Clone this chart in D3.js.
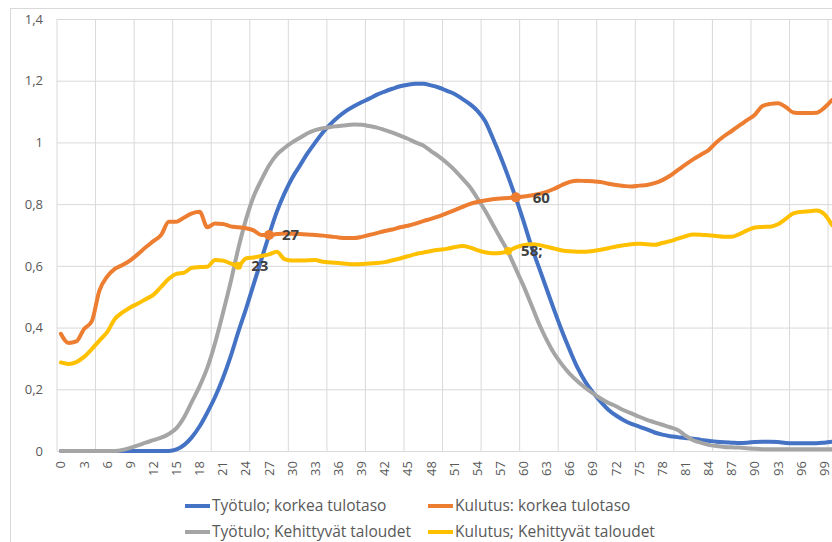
<!DOCTYPE html>
<html><head><meta charset="utf-8">
<script src="https://cdn.jsdelivr.net/npm/d3@7"></script>
<style>
html,body{margin:0;padding:0;background:#fff;overflow:hidden}
svg{display:block}
</style></head>
<body>
<svg id="chart" width="832" height="542"></svg>
<script>
const ages = d3.range(0, 101);
const yTicks = [0, 0.2, 0.4, 0.6, 0.8, 1, 1.2, 1.4];
const xLabelAges = d3.range(0, 100, 3);
const gridAges = d3.range(0, 101, 5);

const tyotuloKorkea = [0,0,0,0,0,0,0,0,0,0, 0,0,0,0,0,0.005,0.02,0.045,0.08,0.125,
 0.175,0.235,0.305,0.385,0.46,0.54,0.62,0.70,0.775,0.835,
 0.885,0.925,0.965,1.0,1.033,1.06,1.083,1.102,1.117,1.13,
 1.142,1.155,1.165,1.174,1.182,1.187,1.19,1.19,1.185,1.178,
 1.168,1.158,1.142,1.125,1.103,1.07,1.015,0.955,0.89,0.82,
 0.745,0.665,0.595,0.525,0.455,0.388,0.327,0.27,0.225,0.19,
 0.16,0.134,0.115,0.1,0.088,0.079,0.07,0.06,0.053,0.048,
 0.045,0.042,0.04,0.036,0.033,0.03,0.028,0.027,0.026,0.027,
 0.029,0.03,0.03,0.029,0.026,0.025,0.025,0.025,0.025,0.027,0.03];

const tyotuloKehittyvat = [0,0,0,0,0,0,0,0,0.003,0.01,
 0.018,0.027,0.035,0.043,0.055,0.074,0.11,0.16,0.21,0.27,
 0.35,0.445,0.545,0.655,0.75,0.825,0.878,0.925,0.96,0.982,
 1.0,1.015,1.03,1.04,1.046,1.05,1.053,1.056,1.058,1.057,
 1.053,1.048,1.04,1.032,1.022,1.012,1.0,0.99,0.972,0.955,
 0.935,0.912,0.885,0.857,0.82,0.78,0.735,0.69,0.645,0.59,
 0.535,0.475,0.413,0.36,0.315,0.28,0.25,0.226,0.205,0.187,
 0.17,0.156,0.145,0.132,0.122,0.111,0.101,0.093,0.085,0.077,
 0.068,0.05,0.035,0.027,0.02,0.016,0.013,0.012,0.011,0.009,
 0.007,0.006,0.006,0.006,0.006,0.006,0.006,0.006,0.006,0.006,0.006];

const kulutusKorkea = [0.38,0.35,0.355,0.395,0.42,0.52,0.565,0.59,0.603,0.618,
 0.638,0.66,0.68,0.70,0.743,0.743,0.757,0.77,0.775,0.725,
 0.737,0.736,0.728,0.725,0.722,0.715,0.70,0.70,0.703,0.705,
 0.704,0.703,0.702,0.70,0.698,0.695,0.692,0.69,0.69,0.694,
 0.70,0.706,0.713,0.718,0.725,0.73,0.737,0.745,0.752,0.76,
 0.77,0.78,0.79,0.80,0.807,0.812,0.816,0.818,0.82,0.822,
 0.825,0.828,0.833,0.84,0.85,0.862,0.872,0.876,0.875,0.874,
 0.872,0.866,0.862,0.859,0.857,0.86,0.862,0.868,0.878,0.892,
 0.91,0.928,0.945,0.96,0.975,1.0,1.02,1.037,1.055,1.072,
 1.09,1.118,1.125,1.127,1.115,1.097,1.095,1.095,1.096,1.112,1.137];

const kulutusKehittyvat = [0.287,0.282,0.288,0.305,0.33,0.358,0.385,0.428,0.449,0.465,
 0.478,0.492,0.506,0.532,0.558,0.574,0.578,0.594,0.596,0.597,
 0.619,0.617,0.608,0.6,0.624,0.627,0.632,0.637,0.646,0.622,
 0.617,0.617,0.618,0.619,0.613,0.611,0.609,0.607,0.605,0.606,
 0.608,0.609,0.612,0.618,0.624,0.631,0.638,0.643,0.648,0.652,
 0.655,0.66,0.664,0.66,0.651,0.644,0.641,0.642,0.648,0.66,
 0.667,0.67,0.668,0.662,0.656,0.65,0.647,0.646,0.646,0.648,
 0.652,0.657,0.663,0.667,0.67,0.672,0.67,0.668,0.674,0.68,
 0.688,0.696,0.702,0.701,0.699,0.697,0.694,0.694,0.703,0.715,
 0.724,0.726,0.727,0.735,0.752,0.77,0.775,0.777,0.779,0.768,0.732];

const seriesNames = ["Työtulo; korkea tulotaso","Kulutus: korkea tulotaso","Työtulo; Kehittyvät taloudet","Kulutus; Kehittyvät taloudet"];
const seriesColors = ["#4472C4","#ED7D31","#A5A5A5","#FFC000"];
const seriesValues = [tyotuloKorkea, kulutusKorkea, tyotuloKehittyvat, kulutusKehittyvat];
const drawOrder = [0, 2, 1, 3];

// markers: series index, age, label
const markerSeries = [1, 1, 3, 3];
const markerAges = [27, 59, 23, 58];
const markerLabels = ["27", "60", "23", "58;"];

const svg = d3.select("#chart");
const x = d3.scaleBand().domain(ages).range([57, 835.8]).padding(0);
const cx = a => x(a) + x.bandwidth() / 2;
const y = d3.scaleLinear().domain([0, 1.4]).range([451, 19]);

// frame
svg.append("rect").attr("x", 10.5).attr("y", 8.5).attr("width", 900).attr("height", 600)
  .attr("fill", "none").attr("stroke", "#d9d9d9").attr("stroke-width", 1);

// horizontal gridlines + y labels
const gY = svg.append("g").attr("transform", "translate(57,0)")
  .call(d3.axisLeft(y).tickValues(yTicks).tickSize(-(835.8 - 57)).tickPadding(14)
    .tickFormat(d => String(Math.round(d*10)/10).replace(".", ",")));
gY.select(".domain").remove();
gY.selectAll(".tick line").attr("stroke", "#d9d9d9").attr("stroke-width", 1);
gY.selectAll(".tick text").attr("fill", "#595959").style("font-family", "'Open Sans'").style("font-size", "13px");

// vertical gridlines every 5 categories
svg.append("g").selectAll("line").data(gridAges).join("line")
  .attr("x1", d => d === 100 ? x(99) + x.bandwidth() : x(d))
  .attr("x2", d => d === 100 ? x(99) + x.bandwidth() : x(d))
  .attr("y1", y(1.4)).attr("y2", y(0))
  .attr("stroke", "#d9d9d9").attr("stroke-width", 1);

// x axis
const gX = svg.append("g").attr("transform", `translate(0,${y(0)})`)
  .call(d3.axisBottom(x).tickValues(xLabelAges).tickSize(0).tickPadding(0));
gX.select(".domain").attr("stroke", "#d9d9d9");
gX.selectAll(".tick text")
  .attr("fill", "#595959").style("font-family", "'Open Sans'").style("font-size", "13px")
  .attr("transform", "translate(0,10) rotate(-90)")
  .attr("text-anchor", "end").attr("dy", "0.35em").attr("x", 0).attr("y", 0);

// lines
const line = d3.line().x((d, i) => cx(ages[i])).y(d => y(d)).curve(d3.curveMonotoneX);
drawOrder.forEach(s => {
  svg.append("path").datum(seriesValues[s])
    .attr("d", line).attr("fill", "none")
    .attr("stroke", seriesColors[s]).attr("stroke-width", 4)
    .attr("stroke-linejoin", "round").attr("stroke-linecap", "round");
});

// markers + labels
markerAges.forEach((a, k) => {
  const s = markerSeries[k];
  const px = cx(a), py = y(seriesValues[s][a]);
  svg.append("circle").attr("cx", px).attr("cy", py).attr("r", s === 1 ? 5 : 4)
    .attr("fill", seriesColors[s]);
  svg.append("text").attr("x", px + (markerLabels[k] === "60" ? 17 : 13)).attr("y", py)
    .attr("dy", "0.36em").attr("fill", "#404040")
    .style("font-family", "'Open Sans'").style("font-size", "15px").style("font-weight", "bold")
    .text(markerLabels[k]);
});

// legend
const legX = [185, 428, 185, 428];
const legY = [506, 506, 532, 532];
seriesNames.forEach((n, i) => {
  svg.append("line").attr("x1", legX[i]).attr("x2", legX[i] + 25)
    .attr("y1", legY[i]).attr("y2", legY[i])
    .attr("stroke", seriesColors[i]).attr("stroke-width", 4);
  svg.append("text").attr("x", legX[i] + 27).attr("y", legY[i]).attr("dy", "0.35em")
    .attr("fill", "#595959").style("font-family", "'Open Sans'").style("font-size", "15.5px")
    .text(n);
});
</script>
</body></html>
